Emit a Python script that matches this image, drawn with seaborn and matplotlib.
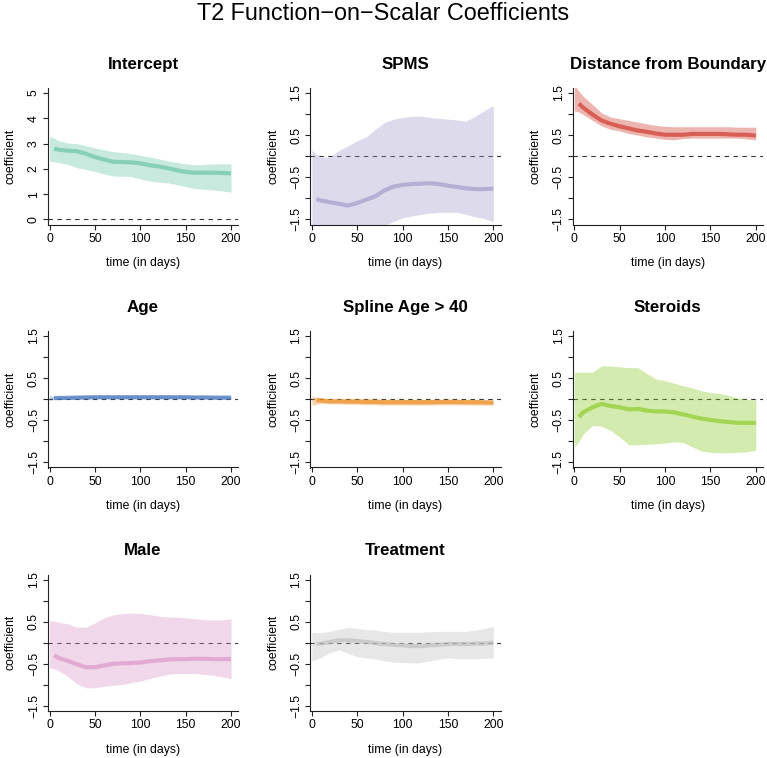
import numpy as np
import pandas as pd
import matplotlib
matplotlib.use("Agg")
import matplotlib.pyplot as plt
import seaborn as sns

# --- data ---
days = [0, 5, 10, 20, 30, 40, 50, 60, 70, 80, 90, 100, 110, 120, 130, 140, 150, 160, 170, 180, 190, 200]

intercept_mean = [np.nan, 2.80, 2.76, 2.72, 2.70, 2.60, 2.47, 2.37, 2.28, 2.27, 2.26, 2.22, 2.15, 2.10, 2.03, 1.95, 1.88, 1.85, 1.85, 1.85, 1.84, 1.82]
intercept_upper = [3.28, 3.22, 3.12, 3.02, 3.00, 2.92, 2.83, 2.76, 2.68, 2.65, 2.60, 2.54, 2.47, 2.40, 2.32, 2.26, 2.20, 2.16, 2.18, 2.20, 2.20, 2.20]
intercept_lower = [2.30, 2.28, 2.25, 2.18, 2.05, 1.98, 1.90, 1.80, 1.72, 1.71, 1.70, 1.60, 1.52, 1.48, 1.45, 1.38, 1.30, 1.22, 1.19, 1.17, 1.13, 1.08]

spms_mean = [np.nan, -1.02, -1.05, -1.09, -1.13, -1.17, -1.11, -1.03, -0.95, -0.81, -0.72, -0.68, -0.66, -0.65, -0.64, -0.66, -0.70, -0.73, -0.76, -0.78, -0.78, -0.77]
spms_upper = [0.14, 0.05, -0.02, -0.02, 0.14, 0.25, 0.37, 0.46, 0.64, 0.80, 0.88, 0.92, 0.95, 0.95, 0.92, 0.90, 0.88, 0.86, 0.83, 0.95, 1.08, 1.20]
spms_lower = [-2.20, -2.15, -2.10, -2.05, -2.00, -1.95, -1.90, -1.82, -1.74, -1.64, -1.55, -1.46, -1.42, -1.38, -1.35, -1.33, -1.33, -1.33, -1.38, -1.44, -1.48, -1.55]

dist_mean = [np.nan, 1.25, 1.15, 0.99, 0.85, 0.77, 0.71, 0.66, 0.61, 0.58, 0.54, 0.51, 0.51, 0.51, 0.53, 0.53, 0.53, 0.53, 0.52, 0.51, 0.51, 0.49]
dist_upper = [1.70, 1.54, 1.42, 1.23, 1.03, 0.93, 0.89, 0.85, 0.81, 0.77, 0.73, 0.71, 0.70, 0.70, 0.70, 0.70, 0.70, 0.70, 0.70, 0.69, 0.69, 0.69]
dist_lower = [1.08, 1.05, 0.99, 0.85, 0.72, 0.64, 0.60, 0.54, 0.50, 0.46, 0.43, 0.40, 0.39, 0.42, 0.43, 0.43, 0.43, 0.43, 0.43, 0.43, 0.41, 0.39]

age_mean = [np.nan, 0.03, 0.03, 0.035, 0.04, 0.045, 0.05, 0.05, 0.05, 0.05, 0.05, 0.05, 0.05, 0.05, 0.05, 0.05, 0.05, 0.045, 0.045, 0.04, 0.04, 0.04]
age_upper = [0.08, 0.07, 0.07, 0.075, 0.08, 0.085, 0.09, 0.09, 0.09, 0.09, 0.09, 0.09, 0.09, 0.09, 0.09, 0.09, 0.09, 0.085, 0.085, 0.08, 0.08, 0.08]
age_lower = [-0.02, -0.01, -0.01, -0.005, 0.0, 0.005, 0.01, 0.01, 0.01, 0.01, 0.01, 0.01, 0.01, 0.01, 0.01, 0.01, 0.01, 0.005, 0.005, 0.0, 0.0, 0.0]

spline_mean = [np.nan, -0.02, -0.03, -0.05, -0.05, -0.055, -0.055, -0.06, -0.065, -0.07, -0.07, -0.07, -0.07, -0.07, -0.07, -0.065, -0.065, -0.065, -0.07, -0.07, -0.075, -0.08]
spline_upper = [0.07, 0.05, 0.03, 0.01, 0.01, 0.01, 0.01, 0.01, 0.01, 0.005, 0.0, 0.0, 0.0, 0.0, 0.0, 0.005, 0.005, 0.005, 0.0, 0.0, -0.01, -0.02]
spline_lower = [-0.14, -0.12, -0.10, -0.11, -0.11, -0.12, -0.12, -0.13, -0.13, -0.14, -0.14, -0.14, -0.14, -0.14, -0.14, -0.135, -0.135, -0.135, -0.14, -0.14, -0.14, -0.14]

steroid_mean = [np.nan, -0.42, -0.31, -0.19, -0.11, -0.16, -0.19, -0.24, -0.23, -0.27, -0.29, -0.29, -0.31, -0.36, -0.41, -0.46, -0.49, -0.52, -0.54, -0.56, -0.56, -0.56]
steroid_upper = [0.64, 0.64, 0.64, 0.64, 0.79, 0.79, 0.77, 0.75, 0.75, 0.61, 0.48, 0.44, 0.38, 0.32, 0.27, 0.20, 0.16, 0.14, 0.09, 0.03, 0.0, -0.02]
steroid_lower = [-1.13, -1.01, -0.82, -0.62, -0.64, -0.74, -0.90, -1.08, -1.08, -1.07, -1.06, -1.04, -1.01, -1.03, -1.13, -1.23, -1.26, -1.27, -1.27, -1.26, -1.25, -1.21]

male_mean = [np.nan, -0.30, -0.36, -0.43, -0.51, -0.58, -0.58, -0.54, -0.50, -0.49, -0.48, -0.47, -0.44, -0.42, -0.40, -0.39, -0.39, -0.38, -0.38, -0.39, -0.39, -0.39]
male_upper = [0.53, 0.51, 0.49, 0.45, 0.37, 0.37, 0.47, 0.59, 0.66, 0.69, 0.70, 0.70, 0.67, 0.63, 0.61, 0.61, 0.59, 0.57, 0.55, 0.54, 0.54, 0.57]
male_lower = [-0.59, -0.62, -0.66, -0.80, -0.97, -1.07, -1.07, -1.03, -1.01, -0.99, -0.95, -0.91, -0.85, -0.80, -0.75, -0.73, -0.73, -0.73, -0.75, -0.77, -0.81, -0.85]

treat_mean = [np.nan, -0.03, -0.02, 0.02, 0.06, 0.06, 0.04, 0.02, -0.01, -0.03, -0.05, -0.06, -0.08, -0.08, -0.06, -0.05, -0.03, -0.03, -0.03, -0.02, -0.02, 0.0]
treat_upper = [0.24, 0.24, 0.24, 0.27, 0.32, 0.36, 0.34, 0.31, 0.30, 0.27, 0.25, 0.25, 0.25, 0.25, 0.26, 0.27, 0.27, 0.27, 0.27, 0.30, 0.34, 0.38]
treat_lower = [-0.43, -0.39, -0.35, -0.23, -0.17, -0.25, -0.33, -0.36, -0.39, -0.43, -0.46, -0.47, -0.48, -0.47, -0.43, -0.39, -0.36, -0.38, -0.38, -0.38, -0.37, -0.36]

panel_titles = ["Intercept", "SPMS", "Distance from Boundary", "Age", "Spline Age > 40",
                "Steroids", "Male", "Treatment"]
panel_colors = ["#66c2a5", "#9e9ac8", "#cf3226", "#3d70ba", "#eb8a1a", "#89c821", "#da92c6", "#bdbdbd"]

panels = [
    (intercept_mean, intercept_lower, intercept_upper),
    (spms_mean, spms_lower, spms_upper),
    (dist_mean, dist_lower, dist_upper),
    (age_mean, age_lower, age_upper),
    (spline_mean, spline_lower, spline_upper),
    (steroid_mean, steroid_lower, steroid_upper),
    (male_mean, male_lower, male_upper),
    (treat_mean, treat_lower, treat_upper),
]

# --- style (base R look) ---
sns.set_style("white")
plt.rcParams['font.family'] = ['Liberation Sans', 'DejaVu Sans']
plt.rcParams['axes.unicode_minus'] = True
for key in ['text.color', 'axes.labelcolor', 'xtick.color', 'ytick.color']:
    plt.rcParams[key] = 'black'

W, H = 767, 758
fig = plt.figure(figsize=(W / 100, H / 100), dpi=100)

col_left = [47.7, 310.0, 572.5]
row_top = [88.0, 331.0, 574.5]
ax_w, ax_h = 190.6, 136.5

fig.text(0.5, 1 - 13 / H, "T2 Function\u2212on\u2212Scalar Coefficients",
         ha="center", va="center", fontsize=16.8)

for i, (title, color, (m, lo, up)) in enumerate(zip(panel_titles, panel_colors, panels)):
    r, c = divmod(i, 3)
    left = col_left[c]
    top = row_top[r]
    ax = fig.add_axes([left / W, 1 - (top + ax_h) / H, ax_w / W, ax_h / H])

    df = pd.DataFrame({"time": days, "coef": m, "lower": lo, "upper": up})
    ax.axhline(0, color="#333333", lw=0.8, ls=(0, (4, 4)), zorder=1)
    ax.fill_between(df["time"], df["lower"], df["upper"], color=color, alpha=0.36,
                    lw=0, zorder=2)
    sns.lineplot(data=df.dropna(), x="time", y="coef", ax=ax, color=color, alpha=0.65,
                 lw=3.0, solid_capstyle="butt", zorder=3)

    ax.set_xlim(-2, 208)
    ax.set_xticks([0, 50, 100, 150, 200])
    if i == 0:
        ax.set_ylim(-0.2, 5.2)
        ax.set_yticks([0, 1, 2, 3, 4, 5])
        ax.set_yticklabels(["0", "1", "2", "3", "4", "5"])
    else:
        ax.set_ylim(-1.62, 1.62)
        ax.set_yticks([-1.5, -1, -0.5, 0, 0.5, 1, 1.5])
        ax.set_yticklabels(["\u22121.5", "", "\u22120.5", "", "0.5", "", "1.5"])

    for lab in ax.get_yticklabels():
        lab.set_rotation(90)
        lab.set_va("center")
    ax.tick_params(axis="both", direction="out", length=3.6, width=0.8, color="#222222",
                   labelsize=8.8, pad=2.5, left=True, bottom=True)
    ax.tick_params(axis="y", pad=2)

    for side in ["top", "right"]:
        ax.spines[side].set_visible(False)
    for side in ["left", "bottom"]:
        ax.spines[side].set_color("#222222")
        ax.spines[side].set_linewidth(0.8)

    ax.set_xlabel("time (in days)", fontsize=8.8, labelpad=9)
    ax.set_ylabel("coefficient", fontsize=8.8, labelpad=8)
    ax.set_title(title, fontsize=12.2, fontweight="bold", pad=14)

fig.savefig("out.png", dpi=100)
